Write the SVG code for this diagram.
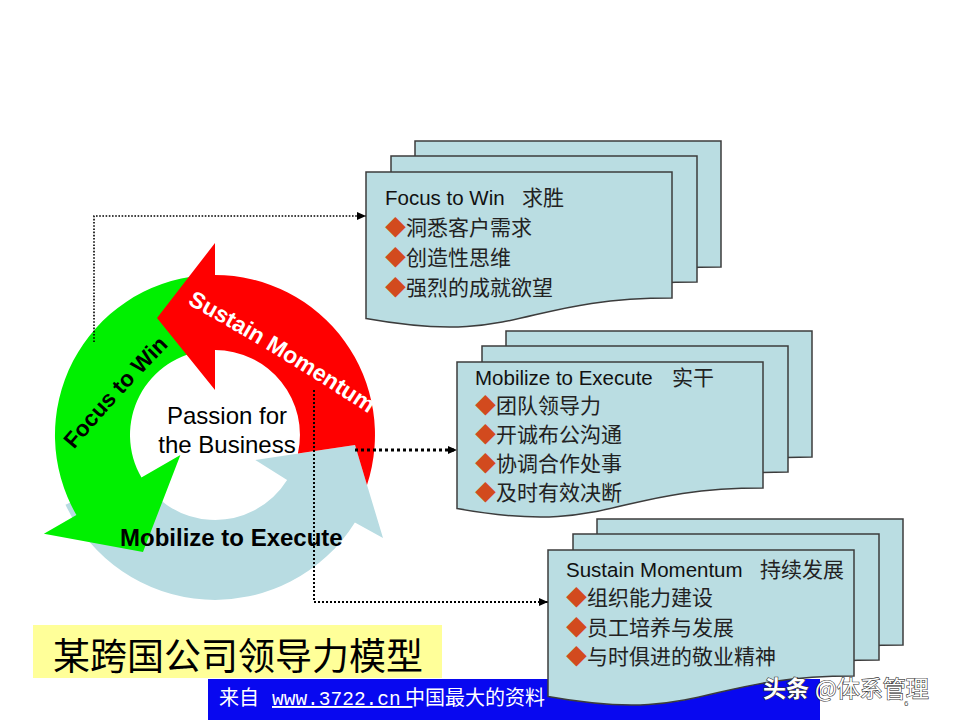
<svg xmlns="http://www.w3.org/2000/svg" xmlns:xlink="http://www.w3.org/1999/xlink" width="960" height="720" viewBox="0 0 960 720">
<style>
.page{fill:#BADDE2;stroke:#3C3C3C;stroke-width:1.5}
.ttl{font-family:"Liberation Sans","Noto Sans CJK SC",sans-serif;font-size:20.5px;fill:#111}
.cjk{font-family:"Noto Sans CJK SC",sans-serif;font-size:21px;fill:#222}
.dia{fill:#D24A1E}
.dot{fill:none;stroke:#000}
.ring-lbl{font-family:"Liberation Sans",Arial,sans-serif;font-weight:bold}
</style>
<defs>
<path id="pg" d="M0,0 H306 V126 C153,126 153,174 0,146.6 Z"/>
<path id="p-sus" d="M158,288 Q278,352 396,432"/>
<path id="p-foc" d="M50,479 Q118,394 196,319"/>
<marker id="ah" markerWidth="9" markerHeight="8" refX="9" refY="4" orient="auto" markerUnits="userSpaceOnUse">
<path d="M0,0 L9,4 L0,8 Z" fill="#000"/>
</marker>
</defs>
<rect width="960" height="720" fill="#fff"/>

<g id="cycle">
<path id="arrow-mobilize" d="M65.5,504.7 A165,165 0 0 0 354.9,522.4 L383,538 L355,445 L255.3,460.1 L287.1,480 A85,85 0 0 1 138,470.9 Z" fill="#B8DCE2"/>
<path id="arrow-focus" d="M201.1,275.6 A160,160 0 0 0 76.4,515 L43.9,533.8 L143,552 L180.4,455 L141.4,477.5 A85,85 0 0 1 207.6,350.3 Z" fill="#00F000"/>
<path id="arrow-sustain" d="M215,275 L215,243 L157,318 L215,390 L215,350 A85,85 0 0 1 297.9,453.6 L355,445 L367,484.9 A160,160 0 0 0 215,275 Z" fill="#FF0000"/>
<text class="ring-lbl" font-size="22.5" fill="#000"><textPath xlink:href="#p-foc" href="#p-foc" startOffset="50%" text-anchor="middle">Focus to Win</textPath></text>
<text class="ring-lbl" font-size="23" fill="#fff"><textPath xlink:href="#p-sus" href="#p-sus" startOffset="50%" text-anchor="middle">Sustain Momentum</textPath></text>
<text class="ring-lbl" font-size="24" fill="#000" x="120" y="546">Mobilize to Execute</text>
<text font-family="Liberation Sans,Arial,sans-serif" font-size="24" fill="#000" text-anchor="middle"><tspan x="227" y="424">Passion for</tspan><tspan x="227" y="453">the Business</tspan></text>
</g>

<g id="connectors">
<polyline class="dot" points="94,342 94,216 366,216" stroke-width="1.6" stroke-dasharray="1.6 1.6" marker-end="url(#ah)"/>
<polyline class="dot" points="355,450 457,450" stroke-width="3" stroke-dasharray="3 3" marker-end="url(#ah)"/>
<polyline class="dot" points="314,390 314,602 548,602" stroke-width="2" stroke-dasharray="2 2" marker-end="url(#ah)"/>
</g>

<g id="title-box">
<rect x="33" y="625" width="409" height="53" fill="#FFFF99"/>
<text x="53" y="670" font-family="Noto Sans CJK SC,sans-serif" font-size="37" fill="#000">某跨国公司领导力模型</text>
</g>

<g id="banner">
<rect x="208" y="679" width="612" height="41" fill="#0808F0"/>
<text y="705" font-size="20" fill="#fff" font-family="Noto Sans CJK SC,sans-serif"><tspan x="219">来自</tspan><tspan x="272" font-family="Liberation Mono,monospace" font-size="19.5" text-decoration="underline">www.3722.cn </tspan><tspan x="405">中国最大的资料</tspan></text>
</g>

<g id="card-focus">
<use href="#pg" xlink:href="#pg" class="page" x="415" y="141"/>
<use href="#pg" xlink:href="#pg" class="page" x="391" y="156"/>
<use href="#pg" xlink:href="#pg" class="page" x="366" y="172"/>
<text class="ttl" x="385" y="205">Focus to Win</text>
<text class="cjk" x="522" y="205">求胜</text>
<text class="cjk" y="235"><tspan class="dia" x="385">◆</tspan><tspan>洞悉客户需求</tspan></text>
<text class="cjk" y="265"><tspan class="dia" x="385">◆</tspan><tspan>创造性思维</tspan></text>
<text class="cjk" y="295"><tspan class="dia" x="385">◆</tspan><tspan>强烈的成就欲望</tspan></text>
</g>

<g id="card-mobilize">
<use href="#pg" xlink:href="#pg" class="page" x="506" y="331"/>
<use href="#pg" xlink:href="#pg" class="page" x="482" y="346"/>
<use href="#pg" xlink:href="#pg" class="page" x="457" y="362"/>
<text class="ttl" x="475" y="385">Mobilize to Execute</text>
<text class="cjk" x="672" y="385">实干</text>
<text class="cjk" y="413"><tspan class="dia" x="475">◆</tspan><tspan>团队领导力</tspan></text>
<text class="cjk" y="442"><tspan class="dia" x="475">◆</tspan><tspan>开诚布公沟通</tspan></text>
<text class="cjk" y="471"><tspan class="dia" x="475">◆</tspan><tspan>协调合作处事</tspan></text>
<text class="cjk" y="500"><tspan class="dia" x="475">◆</tspan><tspan>及时有效决断</tspan></text>
</g>

<g id="card-sustain">
<use href="#pg" xlink:href="#pg" class="page" x="597" y="519"/>
<use href="#pg" xlink:href="#pg" class="page" x="573" y="534"/>
<use href="#pg" xlink:href="#pg" class="page" x="548" y="550"/>
<text class="ttl" x="566" y="577">Sustain Momentum</text>
<text class="cjk" x="760" y="577">持续发展</text>
<text class="cjk" y="605"><tspan class="dia" x="566">◆</tspan><tspan>组织能力建设</tspan></text>
<text class="cjk" y="635"><tspan class="dia" x="566">◆</tspan><tspan>员工培养与发展</tspan></text>
<text class="cjk" y="664"><tspan class="dia" x="566">◆</tspan><tspan>与时俱进的敬业精神</tspan></text>
</g>

<g id="watermark">
<text y="697" font-family="Noto Sans CJK SC,sans-serif" font-size="23" fill="#fff" stroke="#333" stroke-width="1.2" paint-order="stroke"><tspan x="763" font-weight="bold">头条</tspan><tspan x="815">@体系管理</tspan></text>
<text x="904" y="706" font-family="Liberation Sans,sans-serif" font-size="8" fill="#555">6</text>
</g>
</svg>
